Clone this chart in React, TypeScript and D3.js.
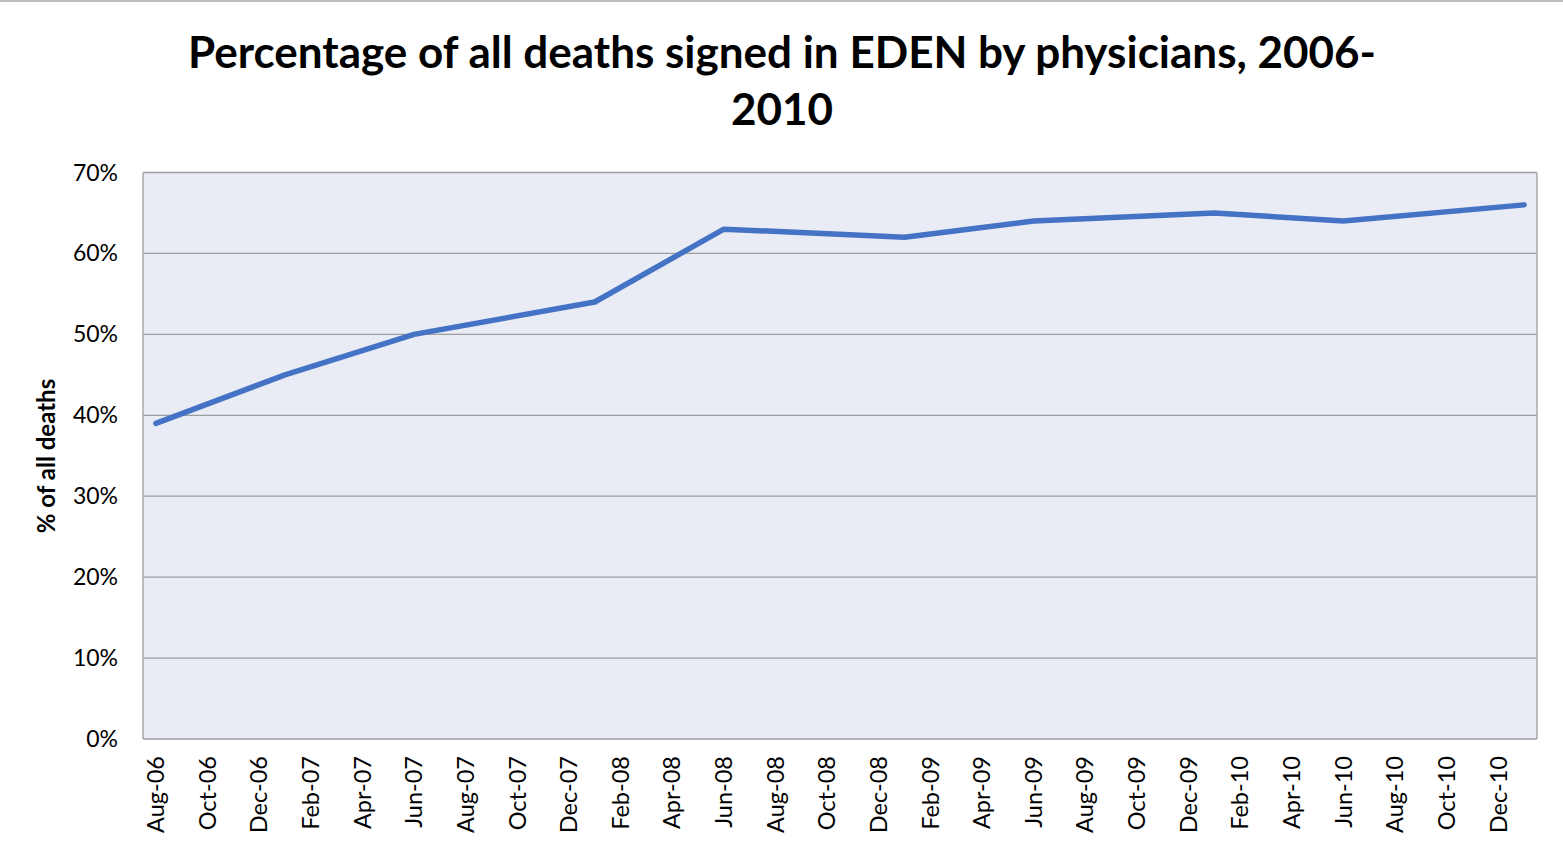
import React from "react";
import * as d3 from "d3";

const monthNames = ["Jan","Feb","Mar","Apr","May","Jun","Jul","Aug","Sep","Oct","Nov","Dec"];
// monthly categories Aug-06 .. Jan-11
const categoryDates: Date[] = d3.timeMonth.range(new Date(2006, 7, 1), new Date(2011, 1, 1));
const fmt = (d: Date) => `${monthNames[d.getMonth()]}-${String(d.getFullYear() % 100).padStart(2, "0")}`;
const categories: string[] = categoryDates.map(fmt);

const tickLabels = [
  "Aug-06","Oct-06","Dec-06","Feb-07","Apr-07","Jun-07","Aug-07","Oct-07","Dec-07",
  "Feb-08","Apr-08","Jun-08","Aug-08","Oct-08","Dec-08","Feb-09","Apr-09","Jun-09",
  "Aug-09","Oct-09","Dec-09","Feb-10","Apr-10","Jun-10","Aug-10","Oct-10","Dec-10",
];

const pointMonths = ["Aug-06","Jan-07","Jun-07","Jan-08","Jun-08","Jan-09","Jun-09","Jan-10","Jun-10","Jan-11"];
const pointValues = [39, 45, 50, 54, 63, 62, 64, 65, 64, 66];

const yTicks = [0, 10, 20, 30, 40, 50, 60, 70];

const W = 1563, H = 850;
const left = 143, right = 1537, top = 172.5, bottom = 739;
const FONT = "Lato, 'Open Sans', sans-serif";

export default function App() {
  const x = d3.scaleBand<string>().domain(categories).range([left, right]).padding(0);
  const y = d3.scaleLinear().domain([0, 70]).range([bottom, top]);
  const cx = (c: string) => (x(c) as number) + x.bandwidth() / 2;
  const pts: [number, number][] = pointMonths.map((m, i) => [cx(m), y(pointValues[i])]);
  const line = d3.line<[number, number]>().x(d => d[0]).y(d => d[1]);

  return (
    <svg width={W} height={H} style={{ position: "absolute", left: 0, top: 0, background: "#fff" }} fontFamily={FONT}>
      <rect x={0} y={0} width={W} height={H} fill="#fff" />
      <line x1={0} x2={W} y1={1} y2={1} stroke="#bfbfbf" strokeWidth={2} />
      <text x={782} y={68} textAnchor="middle" fontSize={44} fontWeight={700} fill="#000">
        Percentage of all deaths signed in EDEN by physicians, 2006-
      </text>
      <text x={782} y={125} textAnchor="middle" fontSize={44} fontWeight={700} fill="#000">
        2010
      </text>
      <rect x={left} y={top} width={right - left} height={bottom - top} fill="#e9ebf5" />
      {yTicks.map(t => (
        <g key={t}>
          <line x1={left} x2={right} y1={y(t)} y2={y(t)} stroke="#9e9e9e" strokeWidth={1.3} />
          <text x={118} y={y(t)} dy="0.35em" textAnchor="end" fontSize={23} fill="#000">{t}%</text>
        </g>
      ))}
      <line x1={left} x2={left} y1={top} y2={bottom} stroke="#9e9e9e" strokeWidth={1.3} />
      <line x1={right} x2={right} y1={top} y2={bottom} stroke="#9e9e9e" strokeWidth={1.3} />
      {tickLabels.map(l => (
        <text key={l} transform={`translate(${cx(l)},756) rotate(-90)`} textAnchor="end" dy="0.35em" fontSize={23.5} fill="#000">{l}</text>
      ))}
      <text transform={`translate(47,456) rotate(-90)`} textAnchor="middle" dy="0.35em" fontSize={24} fontWeight={700} fill="#000">% of all deaths</text>
      <path d={line(pts) || ""} fill="none" stroke="#4472c4" strokeWidth={5.5} strokeLinecap="round" strokeLinejoin="round" />
    </svg>
  );
}
